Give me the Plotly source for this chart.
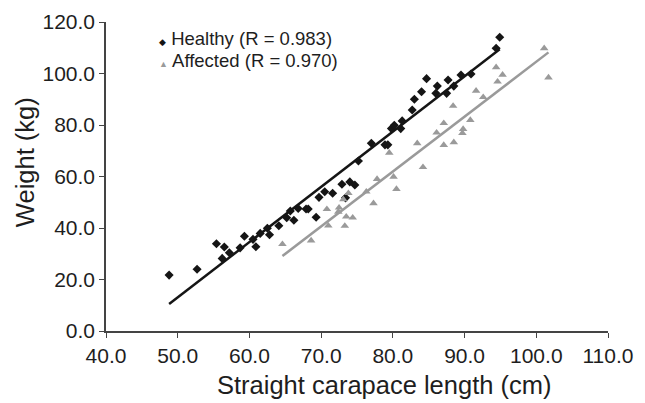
import plotly.graph_objects as go

# Healthy turtles: straight carapace length (cm) vs weight (kg)
healthy_scl = [48.8, 52.7, 55.4, 56.5, 56.2, 57.2, 58.7, 59.3, 60.5, 60.9,
               61.5, 62.5, 62.8, 64.1, 65.2, 66.2, 65.7, 66.8, 67.9, 68.2,
               69.3, 69.7, 70.5, 71.6, 72.9, 74.0, 74.7, 73.4, 75.2, 77.0,
               78.9, 79.3, 79.8, 80.2, 81.1, 81.3, 82.7, 83.0, 84.0, 84.7,
               86.0, 86.2, 87.5, 87.7, 88.5, 89.5, 90.9, 94.9, 94.4]
healthy_wt = [21.7, 24.0, 33.9, 32.6, 28.2, 30.4, 32.3, 36.8, 35.6, 32.7,
              37.9, 39.9, 37.4, 40.9, 44.0, 43.0, 46.6, 47.6, 47.4, 47.4,
              44.2, 51.9, 54.1, 53.5, 57.0, 57.9, 56.7, 51.7, 66.0, 72.9,
              72.3, 72.3, 78.6, 79.9, 78.6, 81.6, 85.8, 90.0, 92.9, 98.0,
              92.3, 95.1, 92.3, 97.5, 95.1, 99.4, 99.8, 114.1, 109.8]

# Affected turtles
affected_scl = [64.6, 68.6, 70.8, 71.0, 73.3, 73.5, 74.4, 72.5, 72.4, 73.1,
                73.8, 76.3, 77.3, 77.8, 79.5, 80.1, 80.5, 83.4, 84.2, 86.1,
                87.1, 87.1, 88.5, 88.4, 89.7, 89.8, 90.8, 91.6, 92.6, 94.4,
                95.3, 94.6, 101.1, 101.7]
affected_wt = [33.7, 35.1, 47.3, 40.9, 40.8, 44.4, 44.0, 47.9, 46.3, 51.1,
               53.5, 54.1, 49.6, 59.0, 69.2, 59.9, 55.1, 72.9, 63.6, 77.0,
               80.7, 72.2, 73.3, 87.4, 76.8, 78.4, 81.9, 93.3, 90.8, 102.4,
               99.5, 96.8, 109.8, 98.4]

# trend line end points
healthy_fit_x = [48.8, 94.9]
healthy_fit_y = [10.5, 109.4]
affected_fit_x = [64.6, 101.7]
affected_fit_y = [29.1, 108.2]

x_ticks = [40, 50, 60, 70, 80, 90, 100, 110]
y_ticks = [0, 20, 40, 60, 80, 100, 120]

series_labels = ["Healthy (R = 0.983)", "Affected (R = 0.970)"]
x_title = "Straight carapace length (cm)"
y_title = "Weight (kg)"

FONT = "Liberation Sans, Arial, sans-serif"
BLACK = "#151515"
GREY = "#9a9a9a"
TXT = "#1e1e1e"

fig = go.Figure()
fig.add_trace(go.Scatter(x=healthy_fit_x, y=healthy_fit_y, mode="lines",
                         line=dict(color=BLACK, width=2.5), hoverinfo="skip"))
fig.add_trace(go.Scatter(x=affected_fit_x, y=affected_fit_y, mode="lines",
                         line=dict(color=GREY, width=2.5), hoverinfo="skip"))
fig.add_trace(go.Scatter(x=healthy_scl, y=healthy_wt, mode="markers",
                         name=series_labels[0],
                         marker=dict(symbol="diamond", size=7, color=BLACK)))
fig.add_trace(go.Scatter(x=affected_scl, y=affected_wt, mode="markers",
                         name=series_labels[1],
                         marker=dict(symbol="triangle-up", size=7.5, color=GREY)))

# legend drawn as text so the row spacing matches the original
fig.add_annotation(xref="paper", yref="paper", x=0.102, y=0.948,
                   xanchor="left", yanchor="middle", showarrow=False,
                   text="<span style='color:%s;font-size:9px'>◆</span> %s"
                        % (BLACK, series_labels[0]),
                   font=dict(size=18.5, color=TXT))
fig.add_annotation(xref="paper", yref="paper", x=0.102, y=0.874,
                   xanchor="left", yanchor="middle", showarrow=False,
                   text="<span style='color:%s;font-size:9px'>▲</span> %s"
                        % (GREY, series_labels[1]),
                   font=dict(size=18.5, color=TXT))

# axis titles sit off-centre in the original, so place them by hand
fig.add_annotation(xref="paper", yref="paper", x=0.554, y=-0.175,
                   xanchor="center", yanchor="middle", showarrow=False,
                   text=x_title, font=dict(size=25.5, color=TXT))
fig.add_annotation(xref="paper", yref="paper", x=-0.161, y=0.547,
                   xanchor="center", yanchor="middle", showarrow=False,
                   textangle=-90, text=y_title, font=dict(size=25.5, color=TXT))

fig.update_xaxes(range=[40, 110], tickvals=x_ticks, tickformat=".1f",
                 automargin=False,
                 showgrid=False, zeroline=False, showline=True,
                 linecolor="#444", linewidth=1.5, ticks="outside", ticklen=5,
                 tickcolor="#444", tickfont=dict(size=21, color=TXT))
fig.update_yaxes(range=[0, 120], tickvals=y_ticks, tickformat=".1f",
                 automargin=False,
                 showgrid=False, zeroline=False, showline=True,
                 linecolor="#444", linewidth=1.5, ticks="outside", ticklen=5,
                 tickcolor="#444", tickfont=dict(size=21, color=TXT))

# page body keeps an 8px margin, so the figure sits 8px in and is 8px smaller
fig.update_layout(
    width=637, height=395,
    margin=dict(l=98, r=37, t=14, b=72),
    paper_bgcolor="white", plot_bgcolor="white",
    font=dict(family=FONT, color=TXT),
    showlegend=False,
)

fig.write_html("out.html")
